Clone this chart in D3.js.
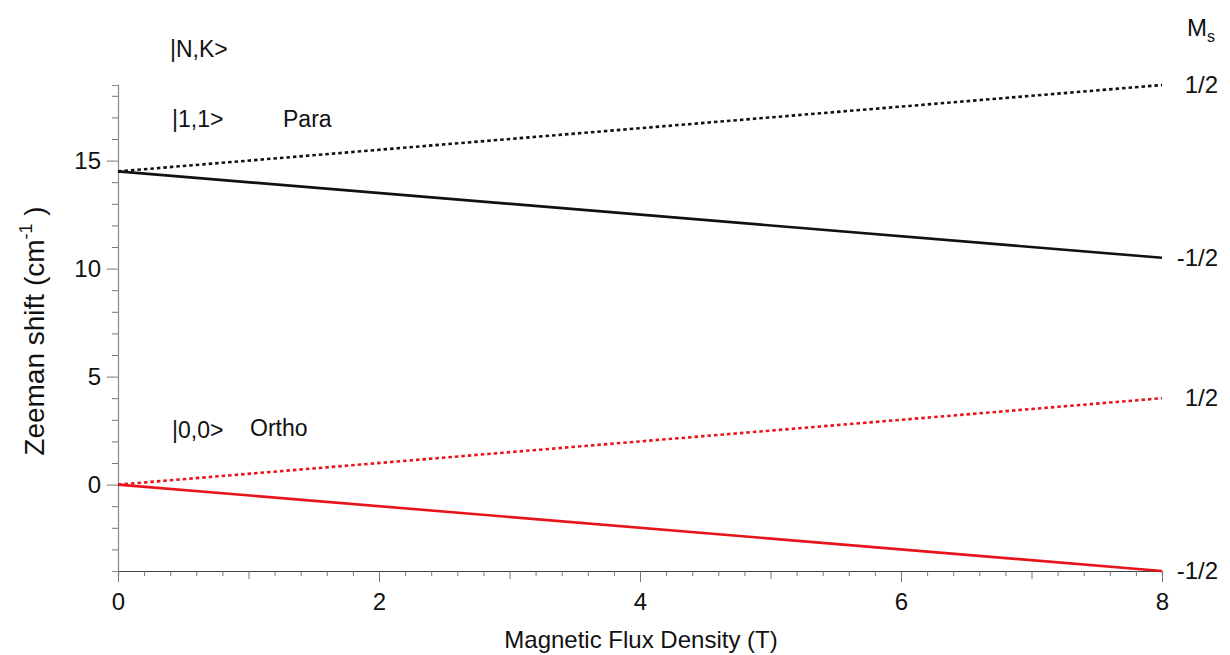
<!DOCTYPE html>
<html><head><meta charset="utf-8">
<script src="https://cdn.jsdelivr.net/npm/d3@7"></script>
<style>body{margin:0;background:#fff}text{font-family:"Liberation Sans",Arial,sans-serif;fill:#111}</style>
</head><body><svg id="c" width="1230" height="655"></svg>
<script>
const field = [0, 8];
const paraUp = [14.5, 18.5];
const paraDown = [14.5, 10.5];
const orthoUp = [0, 4];
const orthoDown = [0, -4];
const xTicks = [0, 2, 4, 6, 8];
const yTicks = [0, 5, 10, 15];
const msLabels = ["1/2", "-1/2", "1/2", "-1/2"];

const svg = d3.select("#c");
const x = d3.scaleLinear().domain([0, 8]).range([118, 1162]);
const y = d3.scaleLinear().domain([-4, 18.5]).range([571, 85]);
const axisCol = "#777";

// x axis
const gx = svg.append("g").attr("transform", `translate(0,${y(-4)})`);
gx.call(d3.axisBottom(x).tickValues(d3.range(0, 8.01, 0.2)).tickSize(5).tickFormat(""));
gx.select(".domain").attr("stroke", "#444").attr("stroke-width", 1.2);
gx.selectAll(".tick line").attr("stroke", axisCol).attr("stroke-width", 1)
  .attr("y2", d => { const r = Math.round(d * 10) / 10; return (r % 2 === 0) ? 11 : (Number.isInteger(r) ? 8 : 5); });
const gx2 = svg.append("g").attr("transform", `translate(0,${y(-4)})`);
gx2.call(d3.axisBottom(x).tickValues(xTicks).tickSize(0).tickPadding(22).tickFormat(d3.format("d")));
gx2.select(".domain").remove();
gx2.selectAll("text").attr("font-size", 24).attr("fill", "#111").attr("font-family", "Liberation Sans, Arial, sans-serif");

// y axis
const gy = svg.append("g").attr("transform", `translate(${x(0)},0)`);
gy.call(d3.axisLeft(y).tickValues(d3.range(-3, 18.5, 1)).tickSize(6).tickFormat(""));
gy.select(".domain").attr("stroke", "#888").attr("stroke-width", 1.2);
gy.selectAll(".tick line").attr("stroke", axisCol).attr("x2", d => (d % 5 === 0) ? -11 : -6);
const gy2 = svg.append("g").attr("transform", `translate(${x(0)},0)`);
gy2.call(d3.axisLeft(y).tickValues(yTicks).tickSize(0).tickPadding(17).tickFormat(d3.format("d")));
gy2.select(".domain").remove();
gy2.selectAll("text").attr("font-size", 24).attr("fill", "#111").attr("font-family", "Liberation Sans, Arial, sans-serif");

// lines
const line = d3.line().x((d, i) => x(field[i])).y(d => y(d));
const series = [
  {v: paraUp, c: "#111", dash: "3.5,3"},
  {v: paraDown, c: "#111", dash: null},
  {v: orthoUp, c: "#e8141b", dash: "3.5,3"},
  {v: orthoDown, c: "#e8141b", dash: null}
];
series.forEach(s => {
  svg.append("path").attr("d", line(s.v)).attr("fill", "none")
    .attr("stroke", s.c).attr("stroke-width", 2.6)
    .attr("stroke-dasharray", s.dash);
});

// right labels
series.forEach((s, i) => {
  svg.append("text").attr("x", 1218).attr("y", y(s.v[1]) + 8)
    .attr("text-anchor", "end").attr("font-size", 24).text(msLabels[i]);
});
const ms = svg.append("text").attr("x", 1187).attr("y", 36).attr("font-size", 24);
ms.append("tspan").text("M");
ms.append("tspan").attr("font-size", 16).attr("dy", 6).text("s");

// annotations
svg.append("text").attr("x", 170).attr("y", 57).attr("font-size", 23).text("|N,K>");
svg.append("text").attr("x", 172).attr("y", 127).attr("font-size", 23).text("|1,1>");
svg.append("text").attr("x", 283).attr("y", 127).attr("font-size", 23).text("Para");
svg.append("text").attr("x", 172).attr("y", 438).attr("font-size", 23).text("|0,0>");
svg.append("text").attr("x", 250).attr("y", 436).attr("font-size", 23).text("Ortho");

// axis titles
svg.append("text").attr("x", 641).attr("y", 648).attr("text-anchor", "middle")
  .attr("font-size", 24).text("Magnetic Flux Density (T)");
const yt = svg.append("text").attr("transform", "translate(44,331) rotate(-90)")
  .attr("text-anchor", "middle").attr("font-size", 28);
yt.append("tspan").text("Zeeman shift (cm");
yt.append("tspan").attr("font-size", 18).attr("dy", -12).text("-1");
yt.append("tspan").attr("dy", 12).text(" )");
</script></body></html>
